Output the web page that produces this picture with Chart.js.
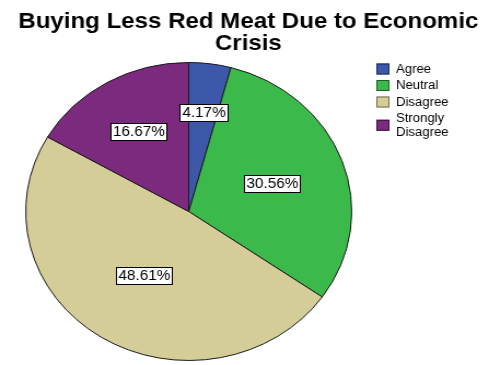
<!DOCTYPE html>
<html>
<head>
<meta charset="utf-8">
<script src="https://cdn.jsdelivr.net/npm/chart.js@4.4.1/dist/chart.umd.min.js"></script>
<style>
  html, body { margin: 0; padding: 0; background: #fff; overflow: hidden; }
  #wrap {
    width: 446px;
    height: 365px;
    transform: scaleX(1.094);
    transform-origin: 0 0;
  }
</style>
</head>
<body>
<div id="wrap"><canvas id="pie" width="446" height="365"></canvas></div>
<script>
const titleLines = ["Buying Less Red Meat Due to Economic", "Crisis"];
const categories = ["Agree", "Neutral", "Disagree", "Strongly Disagree"];
const legendLines = [["Agree"], ["Neutral"], ["Disagree"], ["Strongly", "Disagree"]];
const percents = [4.17, 30.56, 48.61, 16.67];
const sliceColors = ["#3d58ab", "#3cb94b", "#d4cd98", "#7c2a7d"];
const sliceBorders = ["#1c2a60", "#1d5e24", "#6e6a4a", "#3a123b"];
// how far out along each slice the value box sits
const labelRadius = [0.67, 0.545, 0.51, 0.62];

const FONT = "'Liberation Sans', Arial, sans-serif";

const overlay = {
  id: "overlay",
  afterDraw(chart) {
    const ctx = chart.ctx;
    ctx.save();

    // title
    ctx.fillStyle = "#000";
    ctx.font = "bold 22px " + FONT;
    ctx.textAlign = "center";
    ctx.textBaseline = "alphabetic";
    titleLines.forEach((t, i) => ctx.fillText(t, 227, 27.5 + i * 22.5));

    // value boxes on the slices
    const arcs = chart.getDatasetMeta(0).data;
    ctx.font = "14px " + FONT;
    ctx.textBaseline = "middle";
    arcs.forEach((arc, i) => {
      const mid = (arc.startAngle + arc.endAngle) / 2;
      const r = arc.outerRadius * labelRadius[i];
      const x = arc.x + Math.cos(mid) * r;
      const y = arc.y + Math.sin(mid) * r;
      const txt = percents[i].toFixed(2) + "%";
      const w = Math.round(ctx.measureText(txt).width + 4);
      const h = 17;
      const bx = Math.round(x - w / 2) + 0.5;
      const by = Math.round(y - h / 2) + 0.5;
      ctx.fillStyle = "#fff";
      ctx.fillRect(bx, by, w, h);
      ctx.strokeStyle = "#000";
      ctx.lineWidth = 1;
      ctx.strokeRect(bx, by, w, h);
      ctx.fillStyle = "#000";
      ctx.textAlign = "center";
      ctx.fillText(txt, bx + w / 2, by + h / 2 + 0.5);
    });

    // legend
    ctx.font = "12px " + FONT;
    ctx.textAlign = "left";
    let y = 69;
    legendLines.forEach((lines, i) => {
      const lh = 13.5;
      const boxY = y + (lines.length - 1) * lh / 2;
      ctx.fillStyle = sliceColors[i];
      ctx.fillRect(344, boxY - 5.5, 12, 11);
      ctx.strokeStyle = sliceBorders[i];
      ctx.strokeRect(344.5, boxY - 5, 11, 10);
      ctx.fillStyle = "#000";
      lines.forEach((l, j) => ctx.fillText(l, 362, y + j * lh + 0.5));
      y += 16.5 + (lines.length - 1) * lh;
    });

    ctx.restore();
  }
};

new Chart(document.getElementById("pie"), {
  type: "pie",
  data: {
    labels: categories,
    datasets: [{
      data: percents,
      backgroundColor: sliceColors,
      borderColor: "#1a1a1a",
      borderWidth: 1
    }]
  },
  options: {
    responsive: false,
    animation: false,
    devicePixelRatio: 1,
    layout: { padding: { left: 23, right: 124, top: 62, bottom: 4 } },
    plugins: {
      legend: { display: false },
      title: { display: false },
      tooltip: { enabled: false }
    }
  },
  plugins: [overlay]
});
</script>
</body>
</html>
